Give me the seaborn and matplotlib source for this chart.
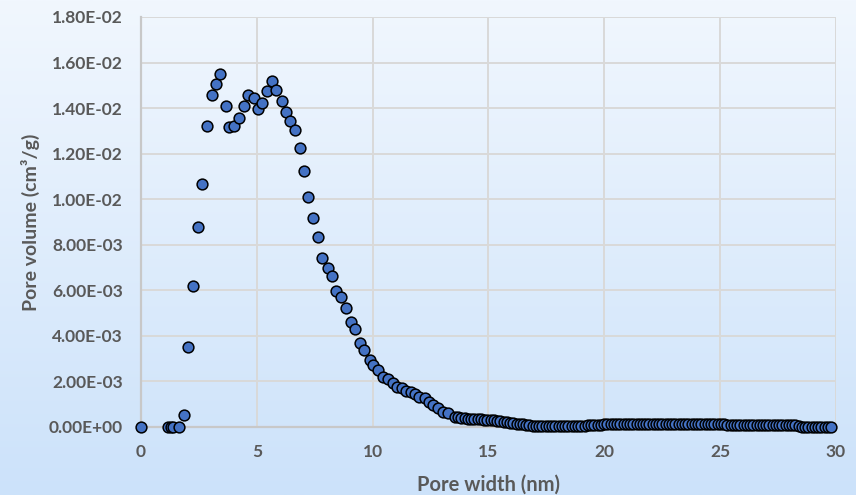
import numpy as np
import pandas as pd
import seaborn as sns
import matplotlib.pyplot as plt
from matplotlib.ticker import FuncFormatter

# pore size distribution (volume in units of 1e-3 cm3/g)
width_main = [0, 1.15, 1.28, 1.39, 1.64, 1.87, 2.04, 2.23, 2.46, 2.65, 2.83, 3.06, 3.25, 3.42,
              3.65, 3.81, 4.03, 4.24, 4.45, 4.63, 4.86, 5.05, 5.24, 5.44, 5.65, 5.84, 6.07,
              6.24, 6.45, 6.65, 6.85, 7.02, 7.21, 7.44, 7.64, 7.83, 8.06, 8.24, 8.43, 8.65,
              8.83, 9.05, 9.25, 9.45, 9.62, 9.88, 10.03, 10.21, 10.43, 10.68, 10.89, 11.06,
              11.25, 11.44, 11.64, 11.83, 12.01, 12.26, 12.44, 12.62, 12.83, 13.05, 13.26, 13.55]
volume_main = [0, 0, 0, 0, 0, 0.53, 3.52, 6.18, 8.79, 10.65, 13.23, 14.57, 15.07, 15.51,
               14.09, 13.18, 13.23, 13.55, 14.09, 14.57, 14.46, 13.95, 14.24, 14.73, 15.19, 14.79, 14.32,
               13.81, 13.45, 13.05, 12.25, 11.22, 10.09, 9.17, 8.34, 7.41, 6.99, 6.64, 5.98, 5.72,
               5.21, 4.62, 4.29, 3.67, 3.38, 2.94, 2.72, 2.50, 2.21, 2.12, 1.92, 1.77,
               1.70, 1.58, 1.52, 1.45, 1.33, 1.26, 1.11, 0.97, 0.82, 0.67, 0.60, 0.45]

width_tail = [13.69, 13.83, 13.97, 14.11, 14.25, 14.39, 14.53, 14.67, 14.81, 14.95,
              15.09, 15.23, 15.37, 15.51, 15.65, 15.79, 15.93, 16.07, 16.21, 16.35,
              16.49, 16.63, 16.77, 16.91, 17.05, 17.19, 17.33, 17.47, 17.61, 17.75,
              17.89, 18.03, 18.17, 18.31, 18.45, 18.59, 18.73, 18.87, 19.01, 19.15,
              19.29, 19.43, 19.57, 19.71, 19.85, 19.99, 20.13, 20.27, 20.41, 20.55,
              20.69, 20.83, 20.97, 21.11, 21.25, 21.39, 21.53, 21.67, 21.81, 21.95,
              22.09, 22.23, 22.37, 22.51, 22.65, 22.79, 22.93, 23.07, 23.21, 23.35,
              23.49, 23.63, 23.77, 23.91, 24.05, 24.19, 24.33, 24.47, 24.61, 24.75,
              24.89, 25.03, 25.17, 25.31, 25.45, 25.59, 25.73, 25.87, 26.01, 26.15,
              26.29, 26.43, 26.57, 26.71, 26.85, 26.99, 27.13, 27.27, 27.41, 27.55,
              27.69, 27.83, 27.97, 28.11, 28.25, 28.39, 28.53, 28.67, 28.81, 28.95,
              29.09, 29.23, 29.37, 29.51, 29.65, 29.79]
volume_tail = [0.42, 0.40, 0.38, 0.37, 0.36, 0.35, 0.34, 0.33, 0.32, 0.31,
               0.30, 0.29, 0.27, 0.25, 0.23, 0.21, 0.19, 0.17, 0.15, 0.13,
               0.11, 0.09, 0.07, 0.06, 0.06, 0.06, 0.06, 0.06, 0.06, 0.06,
               0.06, 0.06, 0.06, 0.06, 0.06, 0.06, 0.06, 0.06, 0.06, 0.06,
               0.07, 0.07, 0.08, 0.08, 0.10, 0.13, 0.13, 0.13, 0.13, 0.13,
               0.13, 0.13, 0.13, 0.13, 0.14, 0.14, 0.14, 0.14, 0.14, 0.14,
               0.14, 0.14, 0.14, 0.14, 0.14, 0.14, 0.14, 0.14, 0.14, 0.14,
               0.14, 0.14, 0.14, 0.13, 0.13, 0.13, 0.13, 0.13, 0.13, 0.13,
               0.13, 0.13, 0.13, 0.10, 0.08, 0.08, 0.08, 0.08, 0.08, 0.08,
               0.08, 0.08, 0.08, 0.08, 0.07, 0.07, 0.07, 0.07, 0.07, 0.07,
               0.07, 0.07, 0.07, 0.07, 0.07, 0.04, 0.02, 0.02, 0.02, 0.01,
               0.01, 0.01, 0.01, 0.01, 0.01, 0.01]

x_ticks = [0, 5, 10, 15, 20, 25, 30]
y_ticks = [0, 0.002, 0.004, 0.006, 0.008, 0.010, 0.012, 0.014, 0.016, 0.018]

df = pd.DataFrame({
    'width': width_main + width_tail,
    'volume': [v * 1e-3 for v in volume_main + volume_tail],
})

sns.set_style('white')
plt.rcParams['font.family'] = ['Lato', 'DejaVu Sans']

fig = plt.figure(figsize=(8.56, 4.95), dpi=100)

# light blue vertical gradient behind everything
bg = fig.add_axes([0, 0, 1, 1], zorder=-1)
top = np.array([241, 247, 254]) / 255
bottom = np.array([204, 226, 250]) / 255
t = np.linspace(0, 1, 256)[:, None]
grad = top[None, :] * (1 - t) + bottom[None, :] * t
bg.imshow(grad[:, None, :], aspect='auto', extent=[0, 1, 0, 1])
bg.axis('off')

ax = fig.add_axes([0.1647, 0.1374, 0.8119, 0.8283])
ax.set_facecolor('none')

sns.scatterplot(data=df, x='width', y='volume', ax=ax, s=60, color='#4472C4',
                edgecolor='black', linewidth=1.1, clip_on=False, zorder=3)

ax.set_xlim(0, 30)
ax.set_ylim(0, 0.018)
ax.set_xticks(x_ticks)
ax.set_yticks(y_ticks)
ax.yaxis.set_major_formatter(FuncFormatter(lambda v, p: f'{v:.2E}'))
ax.grid(True, color='#D9D9D9', linewidth=1.4)
ax.set_axisbelow(True)
for side in ['top', 'right']:
    ax.spines[side].set_visible(False)
for side in ['left', 'bottom']:
    ax.spines[side].set_color('#C8C8C8')
    ax.spines[side].set_linewidth(1.6)
ax.tick_params(axis='y', length=0, pad=13, labelsize=12.5, labelcolor='#595959')
ax.tick_params(axis='x', length=0, pad=12, labelsize=12.5, labelcolor='#595959')
for lab in ax.get_xticklabels() + ax.get_yticklabels():
    lab.set_fontweight('bold')

ax.set_xlabel('Pore width (nm)', fontsize=14.5, fontweight='bold', color='#595959', labelpad=11)
ax.set_ylabel('Pore volume (cm³/g)', fontsize=14, fontweight='bold', color='#595959', labelpad=6)

fig.savefig('out.png', dpi=100)
